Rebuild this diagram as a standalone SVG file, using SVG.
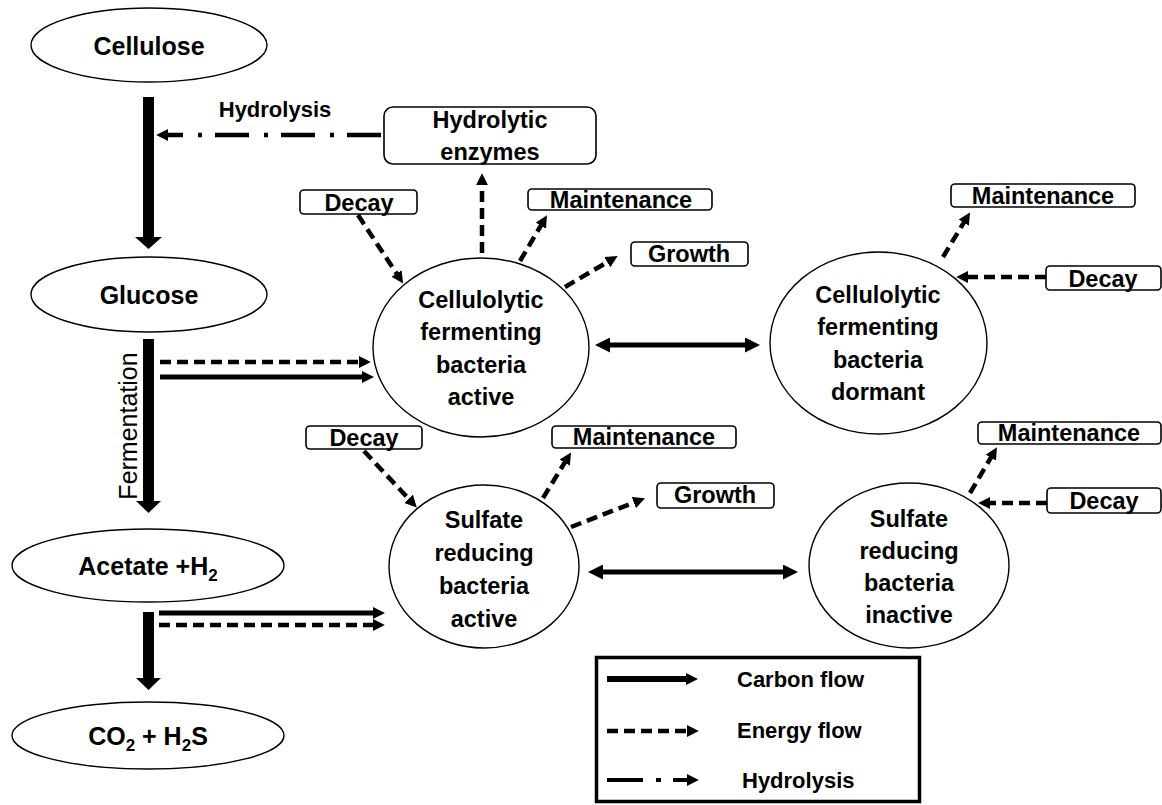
<svg xmlns="http://www.w3.org/2000/svg" width="1162" height="805" viewBox="0 0 1162 805">
<style>
text{font-family:"Liberation Sans",Arial,sans-serif;font-weight:bold;fill:#000;text-anchor:middle}
.n{fill:#fff;stroke:#000;stroke-width:1.4}
.b{fill:#fff;stroke:#000;stroke-width:1.6}
.big{font-size:25px}
.c{font-size:23.5px}
.bl{font-size:23.5px}
.lg{font-size:22px;text-anchor:start}
.e{fill:none;stroke:#000;stroke-width:4.5;stroke-dasharray:11 6;marker-end:url(#ah)}
.s{fill:none;stroke:#000;stroke-width:5;marker-end:url(#sh)}
.d{fill:none;stroke:#000;stroke-width:5;marker-start:url(#dh);marker-end:url(#dh)}
.bar{fill:#000}
</style>
<defs>
<marker id="ah" viewBox="0 0 10 10" refX="6" refY="5" markerWidth="12" markerHeight="12" markerUnits="userSpaceOnUse" orient="auto"><path d="M0,0 L10,5 L0,10 z" fill="#000"/></marker>
<marker id="sh" viewBox="0 0 12 12" refX="6" refY="6" markerWidth="12" markerHeight="12" markerUnits="userSpaceOnUse" orient="auto"><path d="M0,0 L12,6 L0,12 z" fill="#000"/></marker>
<marker id="dh" viewBox="0 0 15 15" refX="7" refY="7.5" markerWidth="15" markerHeight="15" markerUnits="userSpaceOnUse" orient="auto-start-reverse"><path d="M0,0 L15,7.5 L0,15 z" fill="#000"/></marker>
</defs>
<rect width="1162" height="805" fill="#fff"/>

<g id="connectors">
<polygon class="bar" points="143,97 154,97 154,237 162,237 148.5,249 135,237 143,237"/>
<polygon class="bar" points="143,339 154,339 154,501 161,501 148.5,513 136,501 143,501"/>
<polygon class="bar" points="143,612 154,612 154,678 161,678 148.5,690 136,678 143,678"/>
<path d="M381,135 L161,135" fill="none" stroke="#000" stroke-width="4.5" stroke-dasharray="34 13 4 15" marker-end="url(#ah)"/>
<path class="e" d="M160,362 L366,362"/>
<path class="s" d="M160,377 L368,377"/>
<path class="s" d="M159,613 L379,613"/>
<path class="e" d="M159,625 L380,625"/>
<path class="e" d="M358,215 L400.5,279.5"/>
<path class="e" d="M482,253 L482,178"/>
<path class="e" d="M520,261 L544.5,219.5"/>
<path class="e" d="M565,287 L613.5,258.5"/>
<path class="e" d="M943,257 L967.5,216.5"/>
<path class="e" d="M1046,277 L961,277"/>
<path class="e" d="M364,451 L413.5,504"/>
<path class="e" d="M543,498 L568.5,456.5"/>
<path class="e" d="M571,527 L640.5,500"/>
<path class="e" d="M970,493 L994.5,451.5"/>
<path class="e" d="M1047,503 L983,503"/>
<path class="d" d="M603,345 L752,345"/>
<path class="d" d="M596,572 L790,572"/>
</g>

<g id="cellulose">
<ellipse class="n" cx="149" cy="45" rx="118" ry="37"/>
<text class="big" x="149" y="55">Cellulose</text>
</g>
<g id="hydrolysis-label">
<text x="275" y="117" style="font-size:22px">Hydrolysis</text>
</g>
<g id="glucose">
<ellipse class="n" cx="149" cy="294.5" rx="118" ry="37.5"/>
<text class="big" x="149" y="304">Glucose</text>
</g>
<g id="fermentation-label">
<text transform="translate(137,426) rotate(-90)" style="font-size:25px;font-weight:normal">Fermentation</text>
</g>
<g id="acetate">
<ellipse class="n" cx="148" cy="565.5" rx="136" ry="36.5"/>
<text class="big" x="148" y="575">Acetate +H<tspan font-size="17" dy="6">2</tspan></text>
</g>
<g id="co2">
<ellipse class="n" cx="148" cy="735.5" rx="136" ry="33.5"/>
<text class="big" x="148" y="745">CO<tspan font-size="17" dy="6">2</tspan><tspan dy="-6"> + H</tspan><tspan font-size="17" dy="6">2</tspan><tspan dy="-6">S</tspan></text>
</g>

<g id="hydrolytic-enzymes">
<rect class="b" x="384" y="107" width="212" height="57" rx="9"/>
<text class="c" x="490" y="128">Hydrolytic</text>
<text class="c" x="490" y="160">enzymes</text>
</g>
<g id="decay-ca">
<rect class="b" x="300" y="190" width="117" height="24" rx="4"/>
<text class="bl" x="359" y="211">Decay</text>
</g>
<g id="maint-ca">
<rect class="b" x="528" y="189" width="184" height="21" rx="4"/>
<text class="bl" x="621" y="208">Maintenance</text>
</g>
<g id="growth-ca">
<rect class="b" x="631" y="242" width="117" height="24" rx="4"/>
<text class="bl" x="689" y="262">Growth</text>
</g>
<g id="cf-active">
<ellipse class="n" cx="481" cy="347.5" rx="108" ry="89.5"/>
<text class="c" x="481" y="308">Cellulolytic</text>
<text class="c" x="481" y="340">fermenting</text>
<text class="c" x="481" y="373">bacteria</text>
<text class="c" x="481" y="405">active</text>
</g>
<g id="cf-dormant">
<ellipse class="n" cx="878.5" cy="343" rx="108.5" ry="91"/>
<text class="c" x="878" y="303">Cellulolytic</text>
<text class="c" x="878" y="335">fermenting</text>
<text class="c" x="878" y="368">bacteria</text>
<text class="c" x="878" y="400">dormant</text>
</g>
<g id="maint-cd">
<rect class="b" x="951" y="184" width="184" height="23" rx="4"/>
<text class="bl" x="1043" y="204">Maintenance</text>
</g>
<g id="decay-cd">
<rect class="b" x="1046" y="266" width="115" height="24" rx="4"/>
<text class="bl" x="1103" y="287">Decay</text>
</g>

<g id="decay-sa">
<rect class="b" x="306" y="426" width="116" height="23" rx="4"/>
<text class="bl" x="364" y="446">Decay</text>
</g>
<g id="maint-sa">
<rect class="b" x="552" y="426" width="184" height="22" rx="4"/>
<text class="bl" x="644" y="445">Maintenance</text>
</g>
<g id="growth-sa">
<rect class="b" x="657" y="483" width="117" height="25" rx="4"/>
<text class="bl" x="715" y="503">Growth</text>
</g>
<g id="sr-active">
<ellipse class="n" cx="484" cy="566.5" rx="95" ry="81.5"/>
<text class="c" x="484" y="528">Sulfate</text>
<text class="c" x="484" y="561">reducing</text>
<text class="c" x="484" y="594">bacteria</text>
<text class="c" x="484" y="627">active</text>
</g>
<g id="sr-inactive">
<ellipse class="n" cx="909" cy="565.5" rx="100" ry="82.5"/>
<text class="c" x="909" y="527">Sulfate</text>
<text class="c" x="909" y="559">reducing</text>
<text class="c" x="909" y="591">bacteria</text>
<text class="c" x="909" y="623">inactive</text>
</g>
<g id="maint-si">
<rect class="b" x="978" y="422" width="183" height="22" rx="4"/>
<text class="bl" x="1069" y="441">Maintenance</text>
</g>
<g id="decay-si">
<rect class="b" x="1047" y="488" width="114" height="25" rx="4"/>
<text class="bl" x="1104" y="509">Decay</text>
</g>

<g id="legend">
<rect x="596.5" y="657.5" width="323" height="144" fill="#fff" stroke="#000" stroke-width="3.5"/>
<path d="M607,679 L692,679" fill="none" stroke="#000" stroke-width="6" marker-end="url(#sh)"/>
<text class="lg" x="737" y="687">Carbon flow</text>
<path class="e" d="M607,731 L694,731"/>
<text class="lg" x="737" y="738">Energy flow</text>
<path d="M607,780 L643,780 M656,780 L661,780 M673,780 L694,780" fill="none" stroke="#000" stroke-width="4" marker-end="url(#ah)"/>
<text class="lg" x="742" y="788">Hydrolysis</text>
</g>
</svg>
